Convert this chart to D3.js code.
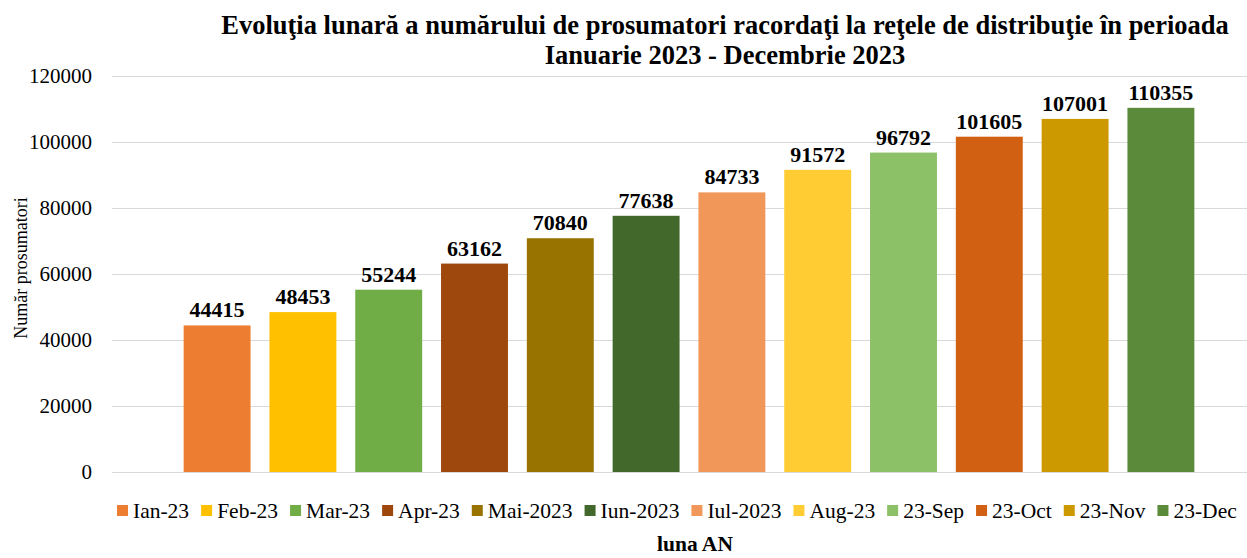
<!DOCTYPE html>
<html lang="ro">
<head>
<meta charset="UTF-8" />
<title>Evoluția lunară a numărului de prosumatori</title>
<script src="https://d3js.org/d3.v7.min.js"></script>
<style>
  body { margin: 0; padding: 0; background: #fff; }
  svg { display: block; font-family: "Liberation Serif", "Times New Roman", serif; }
</style>
</head>
<body>
<svg width="1247" height="558"></svg>
<script>
const months = ["Ian-23", "Feb-23", "Mar-23", "Apr-23", "Mai-2023", "Iun-2023",
  "Iul-2023", "Aug-23", "23-Sep", "23-Oct", "23-Nov", "23-Dec"];
const values = [44415, 48453, 55244, 63162, 70840, 77638, 84733, 91572, 96792, 101605, 107001, 110355];
const colors = ["#ED7D31", "#FFC000", "#70AD47", "#9E480E", "#997300", "#43682B",
  "#F1975A", "#FFCD33", "#8CC168", "#D26013", "#CC9A00", "#5A8A3A"];
const yTicks = [0, 20000, 40000, 60000, 80000, 100000, 120000];
const titleLines = ["Evoluţia lunară a numărului de prosumatori racordaţi la reţele de distribuţie în perioada",
  "Ianuarie 2023 - Decembrie 2023"];

const width = 1247;
const height = 558;
const plot = { left: 112, right: 1266, top: 76, bottom: 472 };

const svg = d3.select("svg");

const x = d3.scaleBand()
  .domain(months)
  .range([plot.left, plot.right])
  .paddingInner(0.22)
  .paddingOuter(0.835);

const y = d3.scaleLinear()
  .domain([0, 120000])
  .range([plot.bottom, plot.top]);

// gridlines
svg.append("g")
  .selectAll("line")
  .data(yTicks)
  .join("line")
  .attr("x1", plot.left)
  .attr("x2", plot.right)
  .attr("y1", d => y(d) + 0.5)
  .attr("y2", d => y(d) + 0.5)
  .attr("stroke", "#d9d9d9")
  .attr("stroke-width", 1);

// y tick labels
svg.append("g")
  .selectAll("text")
  .data(yTicks)
  .join("text")
  .attr("x", 92)
  .attr("y", d => y(d))
  .attr("dy", "0.35em")
  .attr("text-anchor", "end")
  .style("font-size", "21px")
  .style("fill", "#000")
  .text(d => d);

// bars
svg.append("g")
  .selectAll("rect")
  .data(values)
  .join("rect")
  .attr("x", (d, i) => x(months[i]))
  .attr("width", x.bandwidth())
  .attr("y", d => y(d))
  .attr("height", d => y(0) - y(d))
  .attr("fill", (d, i) => colors[i]);

// data labels
svg.append("g")
  .selectAll("text")
  .data(values)
  .join("text")
  .attr("x", (d, i) => x(months[i]) + x.bandwidth() / 2)
  .attr("y", d => y(d) - 8)
  .attr("text-anchor", "middle")
  .style("font-size", "22px")
  .style("font-weight", "bold")
  .text(d => d);

// title
svg.append("text")
  .attr("text-anchor", "middle")
  .style("font-size", "26.5px")
  .style("font-weight", "bold")
  .selectAll("tspan")
  .data(titleLines)
  .join("tspan")
  .attr("x", 725)
  .attr("y", (d, i) => 34 + i * 30)
  .text(d => d);

// y axis title
svg.append("text")
  .attr("transform", "translate(27,268) rotate(-90)")
  .attr("text-anchor", "middle")
  .style("font-size", "18px")
  .text("Număr prosumatori");

// x axis title
svg.append("text")
  .attr("x", 695)
  .attr("y", 551)
  .attr("text-anchor", "middle")
  .style("font-size", "21.5px")
  .style("font-weight", "bold")
  .text("luna AN");

// legend
const legend = svg.append("g");
let lx = 117;
months.forEach((m, i) => {
  const item = legend.append("g").attr("transform", `translate(${lx},0)`);
  item.append("rect")
    .attr("x", 0)
    .attr("y", 505)
    .attr("width", 11)
    .attr("height", 11)
    .attr("fill", colors[i]);
  const t = item.append("text")
    .attr("x", 16)
    .attr("y", 518)
    .style("font-size", "21.5px")
    .text(m);
  lx += 16 + t.node().getComputedTextLength() + 12;
});
</script>
</body>
</html>
